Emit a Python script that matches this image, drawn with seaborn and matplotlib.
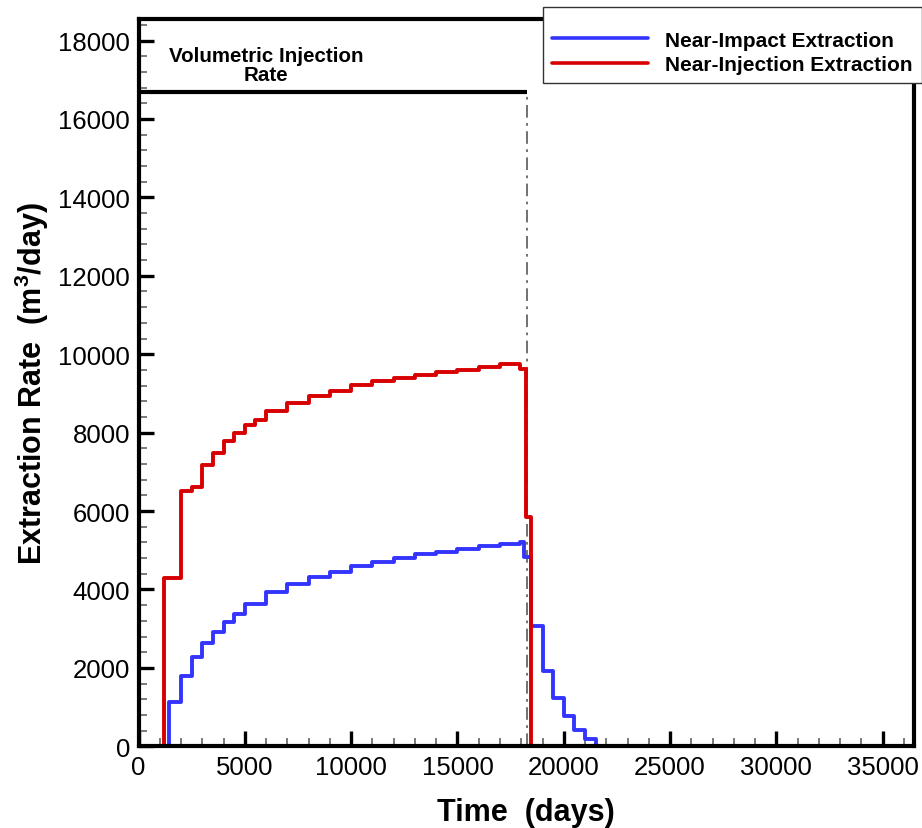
import numpy as np
import pandas as pd
import seaborn as sns
import matplotlib
import matplotlib.pyplot as plt
from matplotlib.ticker import MultipleLocator
plt.switch_backend('agg')

# step times (days) and rates (m3/day)
impact_t = [0, 1450, 2000, 2500, 3000, 3500, 4000, 4500, 5000, 6000, 7000, 8000, 9000,
            10000, 11000, 12000, 13000, 14000, 15000, 16000, 17000, 17950, 18150,
            18470, 19000, 19500, 20000, 20500, 21000, 21500]
impact_q = [0, 1120, 1800, 2285, 2635, 2910, 3165, 3380, 3630, 3930, 4140, 4310, 4455,
            4595, 4710, 4800, 4900, 4965, 5020, 5105, 5165, 5205, 4840,
            3070, 1930, 1230, 765, 425, 185, 0]

inject_t = [0, 1200, 2000, 2500, 3000, 3500, 4000, 4500, 5000, 5500, 6000, 7000, 8000,
            9000, 10000, 11000, 12000, 13000, 14000, 15000, 16000, 17000, 17950,
            18230, 18470]
inject_q = [0, 4300, 6500, 6620, 7180, 7480, 7790, 8000, 8200, 8310, 8540, 8760, 8935,
            9070, 9205, 9310, 9395, 9480, 9550, 9605, 9675, 9750, 9615,
            5860, 0]

injection_rate = 16700
injection_end = 18250

series_names = ['Near-Impact Extraction', 'Near-Injection Extraction']
series_colors = ['#3434ff', '#d70000']

df = pd.concat([
    pd.DataFrame({'time': impact_t, 'rate': impact_q, 'series': series_names[0]}),
    pd.DataFrame({'time': inject_t, 'rate': inject_q, 'series': series_names[1]}),
], ignore_index=True)

sns.set_theme(style='ticks')
plt.rcParams['font.family'] = ['Liberation Sans', 'DejaVu Sans']
plt.rcParams['mathtext.fontset'] = 'custom'
plt.rcParams['mathtext.bf'] = 'Liberation Sans:bold'
plt.rcParams['mathtext.rm'] = 'Liberation Sans'
plt.rcParams['text.color'] = 'black'
plt.rcParams['axes.labelcolor'] = 'black'
plt.rcParams['xtick.color'] = 'black'
plt.rcParams['ytick.color'] = 'black'

fig = plt.figure(figsize=(9.22, 8.29), dpi=100)
ax = fig.add_axes([138.5 / 922, 1 - 747.3 / 829, (914 - 138.5) / 922, (747.3 - 20) / 829])

sns.lineplot(data=df, x='time', y='rate', hue='series', palette=series_colors,
             hue_order=series_names, estimator=None, sort=False,
             drawstyle='steps-post', linewidth=2.8, ax=ax)

# volumetric injection rate: flat line then dash-dot drop
ax.plot([0, injection_end], [injection_rate, injection_rate], color='black',
        linewidth=3, solid_capstyle='butt', zorder=3)
ax.plot([injection_end, injection_end], [0, injection_rate], color='#666666',
        linewidth=1.3, dashes=(7, 3, 1.5, 3), zorder=1.5)
ax.text(6000, 17380, 'Volumetric Injection\nRate', ha='center', va='center',
        fontsize=14.8, fontweight='bold', linespacing=1.0)

ax.set_xlim(0, 36470)
ax.set_ylim(0, 18550)
ax.xaxis.set_major_locator(MultipleLocator(5000))
ax.xaxis.set_minor_locator(MultipleLocator(1000))
ax.yaxis.set_major_locator(MultipleLocator(2000))
ax.yaxis.set_minor_locator(MultipleLocator(400))

for s in ax.spines.values():
    s.set_linewidth(3)
    s.set_color('black')

ax.tick_params(which='major', direction='in', length=11, width=2.4, color='black',
               labelcolor='black', labelsize=18.5, pad=6, top=False, right=False)
ax.tick_params(which='minor', direction='in', length=6, width=1.1, color='#555555',
               top=False, right=False)

ax.set_xlabel('Time  (days)', fontsize=22, fontweight='bold', labelpad=13)
ax.set_ylabel('Extraction Rate  (m$^\\mathbf{3}$/day)', fontsize=22, fontweight='bold', labelpad=5)

handles, labels = ax.get_legend_handles_labels()
leg = ax.legend(handles, labels, loc='upper left', bbox_to_anchor=(543 / 922, 1 - 8 / 829),
                bbox_transform=fig.transFigure, prop={'weight': 'bold', 'size': 15},
                title=' ', title_fontsize=6.5,
                frameon=True, fancybox=False, framealpha=1, handlelength=4.6,
                handletextpad=0.8, labelspacing=0.25, borderpad=0.45, borderaxespad=0)
leg.get_frame().set_edgecolor('#333333')
leg.get_frame().set_linewidth(1.0)
for line in leg.get_lines():
    line.set_linewidth(2.6)

fig.savefig('out.png', dpi=100)
